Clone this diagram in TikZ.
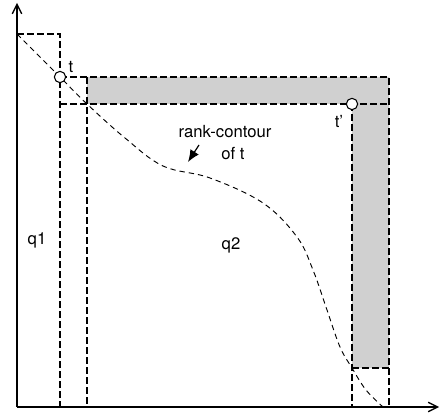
\documentclass[tikz,border=0pt]{standalone}
\usepackage{fontspec}
\setmainfont{TeX Gyre Heros}
\usetikzlibrary{arrows.meta}
\definecolor{bandgray}{HTML}{D0D0D0}
\begin{document}
\begin{tikzpicture}[x=0.75pt,y=-0.75pt,
  dashline/.style={line width=0.9pt,dash pattern=on 5pt off 2.5pt},
  curveline/.style={line width=0.7pt,dash pattern=on 4pt off 3pt},
  axisline/.style={line width=1pt,-{Straight Barb[length=7pt,width=7pt,line width=1pt]}},
  dot/.style={circle,draw,fill=white,line width=0.8pt,minimum size=8.5pt,inner sep=0pt},
  lbl/.style={font=\fontsize{12.5pt}{14pt}\selectfont,inner sep=0pt,anchor=base},
  pointer/.style={line width=0.9pt,-{Latex[length=9pt,width=7.5pt]}}
]
\useasboundingbox (0,0) rectangle (441,416);
% coordinates
\coordinate (O) at (17,407);
\coordinate (ytop) at (17,3);
\coordinate (xend) at (439,407);
\coordinate (A) at (17,34);
\coordinate (B) at (60,34);
\coordinate (C) at (60,407);
\coordinate (D) at (87,77);
\coordinate (E) at (87,407);
\coordinate (F) at (389,77);
\coordinate (G) at (389,407);
\coordinate (H) at (352,407);
\coordinate (I) at (352,368);
\coordinate (J) at (389,368);
\coordinate (K) at (60,104);
\coordinate (L) at (389,104);
\coordinate (cv) at (188,162);
% gray region
\fill[bandgray] (87,77) -- (389,77) -- (389,368) -- (352,368) -- (352,104) -- (87,104) -- cycle;
% dashed construction lines
\draw[dashline] (A) -- (B) -- (C);
\draw[dashline] (60,77) -- (F) -- (G);
\draw[dashline] (D) -- (E);
\draw[dashline] (K) -- (L);
\draw[dashline] (352,104) -- (H);
\draw[dashline] (I) -- (J);
% contour curve
\draw[curveline] plot[smooth,tension=0.6] coordinates {(17,34) (60,77) (87,104) (125,138) (163,166) (210,178) (263,203) (297,237) (313,270) (327,310) (340,347) (352,368) (366,390) (383,407)};
% axes
\draw[axisline] (O) -- (ytop);
\draw[axisline] (O) -- (xend);
% points
\node[dot] (t) at (60,77) {};
\node[dot] (tp) at (352,104) {};
% labels
\node[lbl] (tl) at (71,73) {t};
\node[lbl] (tpl) at (339,128) {t’};
\node[lbl] (q1) at (37,244) {q1};
\node[lbl] (q2) at (231,249) {q2};
\node[lbl] (rc) at (225,138) {rank-contour};
\node[lbl] (oft) at (233,160) {of t};
\draw[pointer] (199,145) -- (cv);
\end{tikzpicture}
\end{document}
